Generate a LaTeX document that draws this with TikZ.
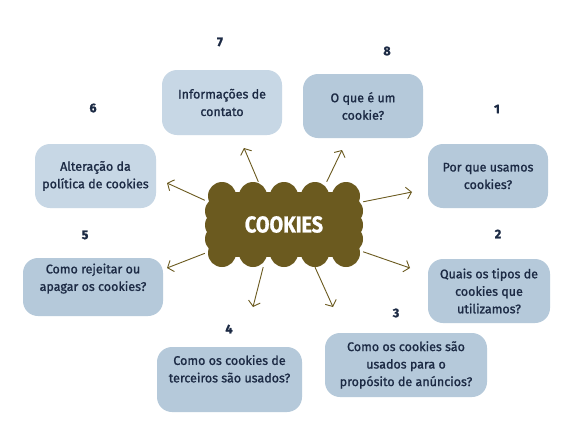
\documentclass[tikz,border=0pt]{standalone}
\usepackage{fontspec}
\setmainfont{Fira Sans}
\newfontfamily\boxfont{Fira Sans}[FakeBold=1.2]
\newfontfamily\numfont{Fira Sans}[FakeBold=1.5]
\newfontfamily\cloudfont{Fira Sans}[FakeStretch=0.86,FakeBold=1]
\usetikzlibrary{arrows.meta}
\definecolor{olive}{HTML}{6B5A1F}
\definecolor{navy}{HTML}{1C2A44}
\definecolor{lightbox}{HTML}{C7D7E5}
\definecolor{darkbox}{HTML}{B5C9DA}
\tikzset{
  qbox/.style={rounded corners=15pt,fill=darkbox,text=navy,align=center,inner sep=0pt,font=\boxfont\fontsize{12.5}{17.5}\selectfont},
  numlabel/.style={text=navy,font=\numfont\fontsize{12.5}{13}\selectfont\bfseries},
  ray/.style={olive,line width=0.9pt,-{Straight Barb[length=5pt,width=12pt]}}
}
\begin{document}
\begin{tikzpicture}[x=1pt,y=-1pt]
  \useasboundingbox[fill=white] (0,0) rectangle (575,434);
  % cloud
  \fill[olive] (215,192) rectangle (353,257);
  \foreach \x in {222,253,284,315,346} {
    \fill[olive] (\x,196) circle (14);
    \fill[olive] (\x,253) circle (14);
  }
  \foreach \y in {211,225,239} {
    \fill[olive] (219,\y) circle (14);
    \fill[olive] (349,\y) circle (14);
  }
  \node at (284,224.5) [minimum width=158pt,minimum height=85pt,inner sep=0pt,text=white,font=\cloudfont\fontsize{23}{23}\selectfont\bfseries] (cookies) {COOKIES};
  % questions
  \node at (488,176) [qbox,minimum width=120pt,minimum height=64pt] (q1) {Por que usamos\\cookies?};
  \node at (489,291) [qbox,minimum width=122pt,minimum height=64pt] (q2) {Quais os tipos de\\cookies que\\utilizamos?};
  \node at (406,365) [qbox,minimum width=162pt,minimum height=64pt] (q3) {Como os cookies são\\usados para o\\propósito de anúncios?};
  \node at (229.5,379.5) [qbox,minimum width=145pt,minimum height=65pt] (q4) {Como os cookies de\\terceiros são usados?\\[4pt]};
  \node at (93,287) [qbox,minimum width=140pt,minimum height=58pt] (q5) {Como rejeitar ou\\apagar os cookies?\\[2pt]};
  \node at (95.5,176) [qbox,fill=lightbox,minimum width=121pt,minimum height=64pt] (q6) {Alteração da\\política de cookies};
  \node at (222,102.5) [qbox,fill=lightbox,minimum width=120pt,minimum height=65pt] (q7) {Informações de\\contato};
  \node at (363,106) [qbox,minimum width=120pt,minimum height=64pt] (q8) {O que é um\\cookie?};
  % numbers
  \node at (497,109) [numlabel] (n1) {1};
  \node at (498,234) [numlabel] (n2) {2};
  \node at (396,313) [numlabel] (n3) {3};
  \node at (229,329) [numlabel] (n4) {4};
  \node at (85,235) [numlabel] (n5) {5};
  \node at (93,108) [numlabel] (n6) {6};
  \node at (220,42) [numlabel] (n7) {7};
  \node at (387,51) [numlabel] (n8) {8};
  % arrow tips
  \coordinate (t1) at (412,192);
  \coordinate (t2) at (410,268);
  \coordinate (t3) at (333,307);
  \coordinate (t4) at (253,307);
  \coordinate (t5) at (167,268);
  \coordinate (t6) at (167,183);
  \coordinate (t7) at (244,148);
  \coordinate (t8) at (342,150);
  \draw[ray] (cookies.16) -- (t1);
  \draw[ray] (cookies.341) -- (t2);
  \draw[ray] (cookies.306) -- (t3);
  \draw[ray] (cookies.244) -- (t4);
  \draw[ray] (cookies.200) -- (t5);
  \draw[ray] (cookies.163) -- (t6);
  \draw[ray] (cookies.121) -- (t7);
  \draw[ray] (cookies.45) -- (t8);
\end{tikzpicture}
\end{document}
